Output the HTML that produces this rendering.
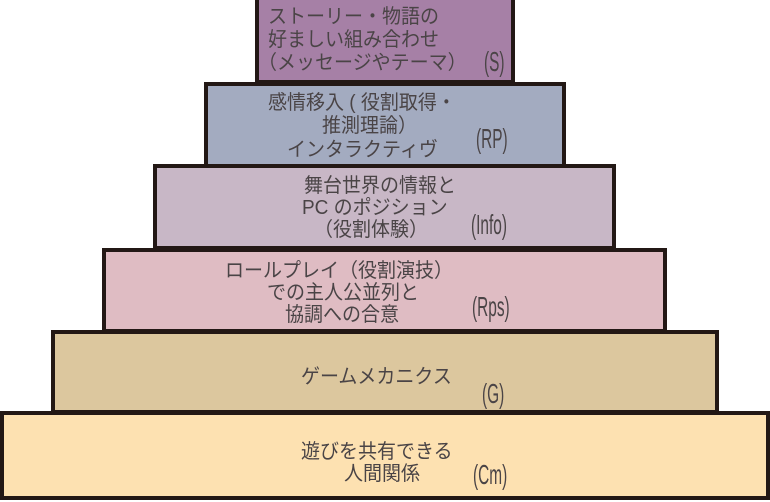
<!DOCTYPE html>
<html><head><meta charset="utf-8"><style>
body{margin:0;width:770px;height:502px;background:#fff;position:relative;overflow:hidden;font-family:"Liberation Sans","Noto Sans CJK JP",sans-serif;color:#4a4446}
.b{position:absolute;box-sizing:border-box;border:4px solid #231815}
.t{position:absolute;font-size:20px;line-height:22px;white-space:nowrap;transform:scaleX(.95);transform-origin:left top}
.l{position:absolute;font-size:28px;line-height:30px;transform:scaleX(.55);transform-origin:left top}
</style></head><body>
<div class="b" style="left:255px;top:-4px;width:260px;height:88px;background:#a680a6"></div>
<div class="b" style="left:204px;top:82px;width:362px;height:86px;background:#a3abc0"></div>
<div class="b" style="left:153px;top:164px;width:463px;height:86px;background:#c8b7c6"></div>
<div class="b" style="left:102px;top:248px;width:565px;height:85px;background:#dfbcc3"></div>
<div class="b" style="left:51px;top:330px;width:668px;height:84px;background:#dcc79e"></div>
<div class="b" style="left:0px;top:411px;width:770px;height:89px;background:#fde1b1"></div>

<div class="t" style="left:268px;top:6px">ストーリー・物語の</div>
<div class="t" style="left:268px;top:29px">好ましい組み合わせ</div>
<div class="t" style="left:258px;top:52px">（メッセージやテーマ）</div>
<div class="l" style="left:484px;top:47px">(S)</div>

<div class="t" style="left:268px;top:92px">感情移入 ( 役割取得・</div>
<div class="t" style="left:322px;top:115px">推測理論）</div>
<div class="t" style="left:287px;top:139px">インタラクティヴ</div>
<div class="l" style="left:476px;top:124px">(RP)</div>

<div class="t" style="left:304px;top:175px">舞台世界の情報と</div>
<div class="t" style="left:302px;top:197px">PC のポジション</div>
<div class="t" style="left:314px;top:219px">（役割体験）</div>
<div class="l" style="left:471px;top:210px">(Info)</div>

<div class="t" style="left:225px;top:260px">ロールプレイ（役割演技）</div>
<div class="t" style="left:267px;top:282px">での主人公並列と</div>
<div class="t" style="left:285px;top:304px">協調への合意</div>
<div class="l" style="left:472px;top:292px">(Rps)</div>

<div class="t" style="left:301px;top:366px">ゲームメカニクス</div>
<div class="l" style="left:482px;top:379px">(G)</div>

<div class="t" style="left:301px;top:441px">遊びを共有できる</div>
<div class="t" style="left:344px;top:463px">人間関係</div>
<div class="l" style="left:473px;top:460px">(Cm)</div>
</body></html>
